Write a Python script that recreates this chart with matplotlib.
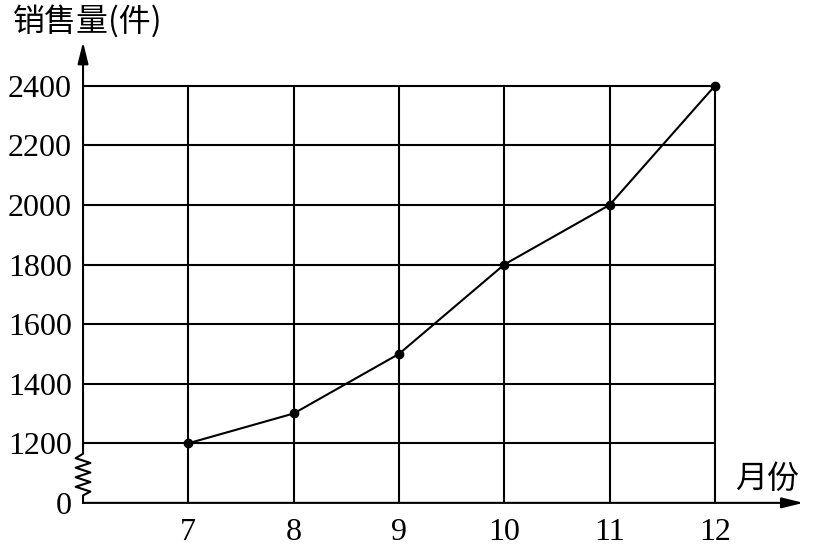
import numpy as np
import matplotlib.pyplot as plt

months = [7, 8, 9, 10, 11, 12]
sales = [1200, 1300, 1500, 1800, 2000, 2400]
y_ticks = [1000, 1200, 1400, 1600, 1800, 2000, 2200, 2400]
y_labels = ['0', '1200', '1400', '1600', '1800', '2000', '2200', '2400']

num_font = 'Liberation Serif'
cjk_font = ['Noto Sans CJK SC', 'DejaVu Sans']

fig = plt.figure(figsize=(8.14, 5.52), dpi=100)
ax = fig.add_axes([0.102, 0.089, 0.885, 0.835])
x_min, x_max = 6, 12.84
y_min, y_max = 1000, 2547
ax.set_xlim(x_min, x_max)
ax.set_ylim(y_min, y_max)
for s in ax.spines.values():
    s.set_visible(False)

lw = 1.5
# grid
for y in y_ticks[1:]:
    ax.plot([x_min, 12], [y, y], color='black', lw=lw, solid_capstyle='butt')
for x in months:
    ax.plot([x, x], [y_min, 2400], color='black', lw=lw, solid_capstyle='butt')

head = '-|>,head_length=1.3,head_width=0.32'
# x axis with arrow
ax.annotate('', xy=(1.0, 0), xycoords='axes fraction', xytext=(0, 0),
            arrowprops=dict(arrowstyle=head, color='black', lw=lw,
                            shrinkA=0, shrinkB=0))
# y axis: straight part with arrow, plus zigzag break near bottom
ax.annotate('', xy=(x_min, y_max), xycoords='data', xytext=(x_min, 1195),
            arrowprops=dict(arrowstyle=head, color='black', lw=lw,
                            shrinkA=0, shrinkB=0))
d = 0.07
zz_y = [1195, 1165, 1150, 1134, 1118, 1102, 1086, 1070, 1054, 1038, 1025, 1000]
zz_x = [x_min, x_min, x_min - d, x_min + d, x_min - d, x_min + d, x_min - d,
        x_min + d, x_min - d, x_min + d, x_min, x_min]
ax.plot(zz_x, zz_y, color='black', lw=lw, clip_on=False)

# data line
ax.plot(months, sales, color='black', lw=lw, marker='o', markersize=6, clip_on=False)

ax.set_xticks(months)
ax.set_xticklabels([str(m) for m in months], fontfamily=num_font, fontsize=23)
ax.set_yticks(y_ticks)
ax.set_yticklabels(y_labels, fontfamily=num_font, fontsize=23)
ax.tick_params(axis='both', length=0)
ax.tick_params(axis='x', pad=11)
ax.tick_params(axis='y', pad=8)

fig.text(0.016, 0.962, '销售量(件)', family=cjk_font, fontsize=23, va='center', ha='left')
fig.text(0.903, 0.133, '月份', family=cjk_font, fontsize=23, va='center', ha='left')

fig.savefig('out.png', dpi=100)
